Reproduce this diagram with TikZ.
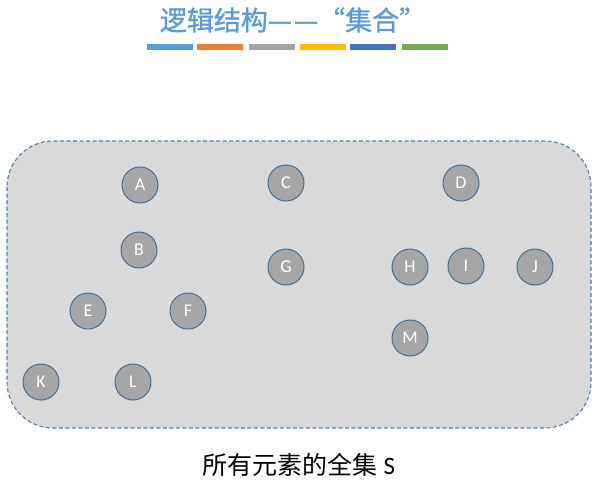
\documentclass[tikz,border=0pt]{standalone}
\usepackage{fontspec}
\setmainfont{Carlito}
\newfontfamily\cjkfont{Noto Sans CJK SC}
\newfontfamily\cjktitlefont[FakeBold=1.2]{Noto Sans CJK SC}
\definecolor{setTitleBlue}{HTML}{5B9BD5}
\definecolor{setBarOrange}{HTML}{ED7D31}
\definecolor{setBarGray}{HTML}{A5A5A5}
\definecolor{setBarGold}{HTML}{FFC000}
\definecolor{setBarBlue}{HTML}{4472C4}
\definecolor{setBarGreen}{HTML}{70AD47}
\definecolor{setFrame}{HTML}{5080B0}
\definecolor{setFill}{HTML}{D9D9D9}
\definecolor{setElemFill}{HTML}{A6A6A6}
\definecolor{setElemLine}{HTML}{41719C}
\tikzset{
  elem/.style={circle, minimum size=36pt, inner sep=0pt, fill=setElemFill,
    draw=setElemLine, line width=1pt, text=white, font=\fontsize{18}{18}\selectfont},
  colorbar/.style={minimum width=46pt, minimum height=5pt, inner sep=0pt}
}
\begin{document}
\begin{tikzpicture}[x=1pt, y=-1pt]
% canvas in pixels of the reference
\useasboundingbox (0,0) rectangle (609,487);
% Title and colour bars
\node[text=setTitleBlue, font=\cjktitlefont\fontsize{27}{27}\selectfont] (title) at (293,20) {逻辑结构—\kern2pt—“集合”};
\foreach \bx/\bc [count=\i] in {170/setTitleBlue, 220/setBarOrange, 271.5/setBarGray, 322.5/setBarGold, 372.5/setBarBlue, 424.5/setBarGreen}
  \node[colorbar, fill=\bc] (bar\i) at (\bx,47) {};
% Universe set S
\path[fill=setFill, draw=setFrame, dash pattern=on 4pt off 2.5pt, line width=1.1pt, rounded corners=46pt] (7,141) rectangle (591,428);
% Elements
\node[elem] (A) at (140,185) {A};
\node[elem] (B) at (139,250) {B};
\node[elem] (C) at (286,183) {C};
\node[elem] (D) at (461,183) {D};
\node[elem] (E) at (88,311) {E};
\node[elem] (F) at (188,311) {F};
\node[elem] (G) at (286,267) {G};
\node[elem] (H) at (410,267) {H};
\node[elem] (I) at (466,266) {I};
\node[elem] (J) at (535,267) {J};
\node[elem] (K) at (41,382) {K};
\node[elem] (L) at (133,382) {L};
\node[elem] (M) at (410,338) {M};
% Caption
\node[font=\cjkfont\fontsize{25}{25}\selectfont] (caption) at (299,465) {所有元素的全集 {\rmfamily S}};
\end{tikzpicture}
\end{document}
